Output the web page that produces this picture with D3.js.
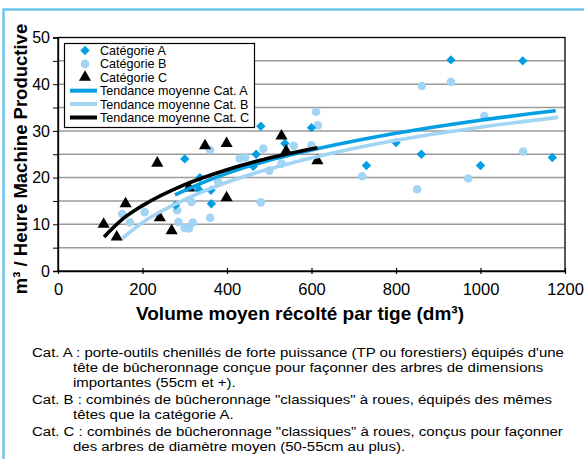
<!DOCTYPE html>
<html>
<head>
<meta charset="utf-8">
<script src="https://d3js.org/d3.v7.min.js"></script>
<style>
  body { margin: 0; background: #fff; }
  svg { display: block; font-family: "Liberation Sans", Arial, sans-serif; }
</style>
</head>
<body>
<div id="chart"></div>
<script>
// Data: [volume dm3, m3 per productive machine hour]
let catA = [
  [278, 14.1], [300, 24], [333, 17.4], [336, 20], [362, 17.3], [363, 14.4],
  [462, 22.4], [469, 25], [480, 31], [537, 27.3], [600, 30.7], [730, 22.6],
  [800, 27.5], [860, 25], [930, 45.2], [1000, 22.6], [1100, 45], [1170, 24.3]
];
let catB = [
  [152, 12.2], [170, 10.4], [205, 12.6], [282, 13], [285, 10.5], [300, 9.2],
  [310, 9.1], [319, 10.4], [316, 14.8], [330, 17.8], [360, 11.4], [360, 25.9],
  [379, 19.1], [430, 24.1], [443, 24.3], [480, 14.7], [486, 26.2], [500, 21.5],
  [529, 23], [558, 26.8], [600, 26.9], [611, 34.1], [615, 31.2], [720, 20.3],
  [850, 17.5], [861, 39.6], [930, 40.5], [971, 19.8], [1009, 33.2], [1101, 25.6]
];
let catC = [
  [108, 10], [139, 7.3], [160, 14.4], [235, 23.1], [241, 11.4], [269, 8.6],
  [310, 17.8], [348, 26.8], [399, 27.3], [399, 15.7], [529, 28.9], [540, 25.7],
  [614, 23.6]
];

// trend curves, points
let trendA = [[277, 16.3], [350, 19.2], [450, 22.4], [600, 25.9], [800, 29.5], [1000, 32.3], [1178, 34.3]];
let trendB = [[151, 6.9], [200, 10.4], [300, 15.3], [400, 19.0], [600, 24.2], [800, 28.0], [1000, 30.8], [1184, 32.9]];
let trendC = [[109, 7.3], [150, 10.9], [200, 14.0], [300, 18.5], [400, 21.7], [500, 24.2], [614, 26.4]];

let xTicks = [0, 200, 400, 600, 800, 1000, 1200];
let yTicks = [0, 10, 20, 30, 40, 50];
let yGrid = [5, 10, 15, 20, 25, 30, 35, 40, 45];

let legendLabels = ['Catégorie A', 'Catégorie B', 'Catégorie C',
  'Tendance moyenne Cat. A', 'Tendance moyenne Cat. B', 'Tendance moyenne Cat. C'];

let captionLines = [
  'Cat. A : porte-outils chenillés de forte puissance (TP ou forestiers) équipés d\'une',
  'tête de bûcheronnage conçue pour façonner des arbres de dimensions',
  'importantes (55cm et +).',
  'Cat. B : combinés de bûcheronnage "classiques" à roues, équipés des mêmes',
  'têtes que la catégorie A.',
  'Cat. C : combinés de bûcheronnage "classiques" à roues, conçus pour façonner',
  'des arbres de diamètre moyen (50-55cm au plus).'
];

let colorA = '#039fe2';
let colorB = '#a2d4f4';
let colorC = '#000000';

let svgWidth = 584;
let svgHeight = 459;
let plot = {left: 58, right: 565, top: 37.5, bottom: 271};

let svg = d3.select('#chart')
  .append('svg')
  .attr('width', svgWidth)
  .attr('height', svgHeight);

// light blue frame (top and left edges visible)
svg.append('rect')
  .attr('x', 3.5).attr('y', 9.5)
  .attr('width', 640).attr('height', 500)
  .attr('fill', 'none')
  .attr('stroke', '#6dc6ee')
  .attr('stroke-width', 2.5);

let x = d3.scaleLinear().domain([0, 1200]).range([plot.left, plot.right]);
let y = d3.scaleLinear().domain([0, 50]).range([plot.bottom, plot.top]);

// gridlines
svg.append('g')
  .selectAll('line')
  .data(yGrid)
  .enter()
  .append('line')
  .attr('x1', plot.left).attr('x2', plot.right)
  .attr('y1', d => y(d)).attr('y2', d => y(d))
  .attr('stroke', '#9a9a9a')
  .attr('stroke-width', 1.5);

// plot frame
svg.append('rect')
  .attr('x', plot.left).attr('y', plot.top)
  .attr('width', plot.right - plot.left)
  .attr('height', plot.bottom - plot.top)
  .attr('fill', 'none')
  .attr('stroke', '#000')
  .attr('stroke-width', 1.3);

// y axis
let leftAxis = d3.axisLeft(y)
  .tickValues(d3.range(0, 55, 5))
  .tickSize(5)
  .tickPadding(3)
  .tickFormat(d => (yTicks.includes(d) ? d : ''));
let yAxis = svg.append('g')
  .attr('transform', `translate(${plot.left},0)`)
  .call(leftAxis);
yAxis.select('.domain').attr('stroke-width', 1.3);
yAxis.selectAll('text')
  .attr('font-size', 16)
  .attr('font-family', '"Liberation Sans", Arial, sans-serif')
  .attr('fill', '#000');

// x axis, ticks crossing the line
let bottomAxis = d3.axisBottom(x)
  .tickValues(xTicks)
  .tickFormat(d3.format('d'))
  .tickSizeInner(3)
  .tickSizeOuter(0)
  .tickPadding(9);
let xAxis = svg.append('g')
  .attr('transform', `translate(0,${plot.bottom})`)
  .call(bottomAxis);
xAxis.select('.domain').attr('stroke-width', 1.3);
xAxis.selectAll('.tick line').attr('y1', -3).attr('stroke-width', 1.2);
xAxis.selectAll('text')
  .attr('font-size', 16.5)
  .attr('font-family', '"Liberation Sans", Arial, sans-serif')
  .attr('fill', '#000');

// markers
let diamond = d3.symbol().type(d3.symbolSquare).size(44);
let triangle = d3.symbol().type(d3.symbolTriangle).size(64);

svg.append('g')
  .selectAll('circle')
  .data(catB)
  .enter()
  .append('circle')
  .attr('cx', d => x(d[0]))
  .attr('cy', d => y(d[1]))
  .attr('r', 4.3)
  .attr('fill', colorB);

svg.append('g')
  .selectAll('path')
  .data(catA)
  .enter()
  .append('path')
  .attr('d', diamond)
  .attr('transform', d => `translate(${x(d[0])},${y(d[1])}) rotate(45)`)
  .attr('fill', colorA);

svg.append('g')
  .selectAll('path')
  .data(catC)
  .enter()
  .append('path')
  .attr('d', triangle)
  .attr('transform', d => `translate(${x(d[0])},${y(d[1])})`)
  .attr('fill', colorC);

// trend lines
let line = d3.line()
  .x(d => x(d[0]))
  .y(d => y(d[1]))
  .curve(d3.curveMonotoneX);

[[trendB, colorB], [trendA, colorA], [trendC, colorC]].forEach(t => {
  svg.append('path')
    .datum(t[0])
    .attr('d', line)
    .attr('fill', 'none')
    .attr('stroke', t[1])
    .attr('stroke-width', 3.6);
});

// axis titles
svg.append('text')
  .attr('transform', 'translate(27,159) rotate(-90)')
  .attr('text-anchor', 'middle')
  .attr('font-size', 18.5)
  .attr('font-weight', 'bold')
  .text('m³ / Heure Machine Productive');

svg.append('text')
  .attr('x', 300)
  .attr('y', 320)
  .attr('text-anchor', 'middle')
  .attr('font-size', 19)
  .attr('font-weight', 'bold')
  .text('Volume moyen récolté par tige (dm³)');

// legend
let legend = svg.append('g');
legend.append('rect')
  .attr('x', 64.5).attr('y', 43.5)
  .attr('width', 190).attr('height', 84)
  .attr('fill', '#fff')
  .attr('stroke', '#000')
  .attr('stroke-width', 1.2);

let rowY = i => 50.5 + i * 13.4;
let legendItems = legend.selectAll('g')
  .data(legendLabels)
  .enter()
  .append('g')
  .attr('transform', (d, i) => `translate(0,${rowY(i)})`);

legendItems.append('text')
  .attr('x', 100)
  .attr('y', 4.4)
  .attr('font-size', 12.6)
  .text(d => d);

legendItems.filter((d, i) => i === 0).append('path')
  .attr('d', diamond)
  .attr('transform', 'translate(85,0) rotate(45)')
  .attr('fill', colorA);
legendItems.filter((d, i) => i === 1).append('circle')
  .attr('cx', 85).attr('cy', 0).attr('r', 4.3)
  .attr('fill', colorB);
legendItems.filter((d, i) => i === 2).append('path')
  .attr('d', triangle)
  .attr('transform', 'translate(85,0)')
  .attr('fill', colorC);

let legendLineColors = [colorA, colorB, colorC];
legendItems.filter((d, i) => i > 2).append('line')
  .attr('x1', 70).attr('x2', 97)
  .attr('y1', 0).attr('y2', 0)
  .attr('stroke', (d, i) => legendLineColors[i])
  .attr('stroke-width', 4);

// caption under the chart, glyphs a bit wider than 13.5px Arial
let stretch = 1.11;
let caption = svg.append('g')
  .attr('transform', `scale(${stretch},1)`);
let capY = 357;
captionLines.forEach((txt, i) => {
  let first = txt.startsWith('Cat.');
  if (first && i > 0) capY += 1.5;
  caption.append('text')
    .attr('x', (first ? 32 : 73) / stretch)
    .attr('y', capY)
    .attr('font-size', 13.5)
    .text(txt);
  capY += 15.2;
});
</script>
</body>
</html>
